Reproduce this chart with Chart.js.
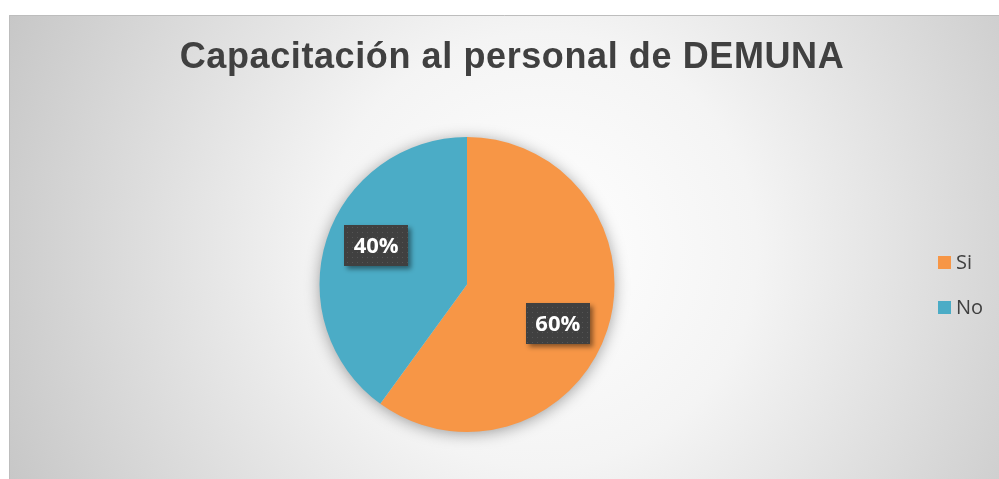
<!DOCTYPE html>
<html>
<head>
<meta charset="utf-8">
<script src="https://cdn.jsdelivr.net/npm/chart.js@4.4.1/dist/chart.umd.min.js"></script>
<style>
  html, body { margin: 0; padding: 0; background: #ffffff; }
  canvas { display: block; }
</style>
</head>
<body>
<canvas id="pieChart" width="999" height="479"></canvas>
<script>
var chartTitle = "Capacitación al personal de DEMUNA"; // Title text
var categories = ["Si", "No"]; // Slice names
var percentages = [60, 40]; // Slice values (%)

var sliceColors = ["#F79646", "#4BACC6"];

// Dark dotted pattern used behind the data labels
function makeLabelPattern(ctx) {
    var p = document.createElement("canvas");
    p.width = 5;
    p.height = 5;
    var pc = p.getContext("2d");
    pc.fillStyle = "#404040";
    pc.fillRect(0, 0, 5, 5);
    pc.fillStyle = "#555555";
    pc.fillRect(2, 2, 1, 1);
    return ctx.createPattern(p, "repeat");
}

var backgroundPlugin = {
    id: "background",
    beforeDraw: function (chart) {
        var ctx = chart.ctx;
        ctx.save();
        ctx.fillStyle = "#ffffff";
        ctx.fillRect(0, 0, chart.width, chart.height);
        var g = ctx.createRadialGradient(540, 250, 0, 540, 250, 620);
        g.addColorStop(0, "#ffffff");
        g.addColorStop(0.35, "#f4f4f4");
        g.addColorStop(1, "#c2c2c2");
        ctx.fillStyle = g;
        ctx.fillRect(9, 15, chart.width - 9, chart.height - 15);
        ctx.strokeStyle = "#bdbdbd";
        ctx.lineWidth = 1;
        ctx.beginPath();
        ctx.moveTo(9.5, chart.height);
        ctx.lineTo(9.5, 15.5);
        ctx.lineTo(chart.width, 15.5);
        ctx.stroke();
        ctx.restore();
    },
    beforeDatasetsDraw: function (chart) {
        // soft shadow under the whole pie
        var arc = chart.getDatasetMeta(0).data[0];
        if (!arc) return;
        var ctx = chart.ctx;
        ctx.save();
        ctx.shadowColor = "rgba(0,0,0,0.4)";
        ctx.shadowBlur = 16;
        ctx.shadowOffsetX = 0;
        ctx.shadowOffsetY = 2;
        ctx.fillStyle = "#dddddd";
        ctx.beginPath();
        ctx.arc(arc.x, arc.y, arc.outerRadius - 1, 0, Math.PI * 2);
        ctx.fill();
        ctx.restore();
    }
};

var labelsPlugin = {
    id: "sliceLabels",
    afterDatasetsDraw: function (chart) {
        var ctx = chart.ctx;
        var meta = chart.getDatasetMeta(0);
        var pattern = makeLabelPattern(ctx);
        meta.data.forEach(function (arc, i) {
            var mid = (arc.startAngle + arc.endAngle) / 2 + 0.09;
            var r = arc.outerRadius * 0.67;
            var cx = arc.x + Math.cos(mid) * r;
            var cy = arc.y + Math.sin(mid) * r;
            var w = 64, h = 41;
            ctx.save();
            ctx.shadowColor = "rgba(0,0,0,0.45)";
            ctx.shadowBlur = 5;
            ctx.shadowOffsetX = 3;
            ctx.shadowOffsetY = 3;
            ctx.fillStyle = pattern;
            ctx.fillRect(Math.round(cx - w / 2), Math.round(cy - h / 2), w, h);
            ctx.restore();

            ctx.save();
            ctx.fillStyle = "#ffffff";
            ctx.font = "bold 22px 'Open Sans'";
            ctx.textAlign = "center";
            ctx.textBaseline = "middle";
            ctx.fillText(percentages[i] + "%", cx, cy + 1);
            ctx.restore();
        });
    },
    afterDraw: function (chart) {
        var ctx = chart.ctx;
        // title
        ctx.save();
        ctx.fillStyle = "#404040";
        ctx.font = "bold 36px 'Liberation Sans'";
        ctx.letterSpacing = "0.6px";
        ctx.textAlign = "center";
        ctx.textBaseline = "alphabetic";
        ctx.fillText(chartTitle, 512, 68);
        ctx.restore();

        // legend
        ctx.save();
        ctx.font = "20px 'Open Sans'";
        ctx.textBaseline = "middle";
        ctx.fillStyle = "#404040";
        categories.forEach(function (name, i) {
            var y = 263 + i * 45;
            ctx.fillStyle = sliceColors[i];
            ctx.fillRect(938, y - 7, 13, 13);
            ctx.fillStyle = "#404040";
            ctx.fillText(name, 956, y);
        });
        ctx.restore();
    }
};

var ctx = document.getElementById("pieChart").getContext("2d");
var pieChart = new Chart(ctx, {
    type: "pie",
    data: {
        labels: categories,
        datasets: [{
            data: percentages,
            backgroundColor: sliceColors,
            borderWidth: 0,
            hoverOffset: 0
        }]
    },
    options: {
        responsive: false,
        devicePixelRatio: 1,
        animation: false,
        events: [],
        layout: {
            padding: { top: 137, bottom: 47, left: 0, right: 65 }
        },
        plugins: {
            legend: { display: false },
            title: { display: false },
            tooltip: { enabled: false }
        }
    },
    plugins: [backgroundPlugin, labelsPlugin]
});
</script>
</body>
</html>
